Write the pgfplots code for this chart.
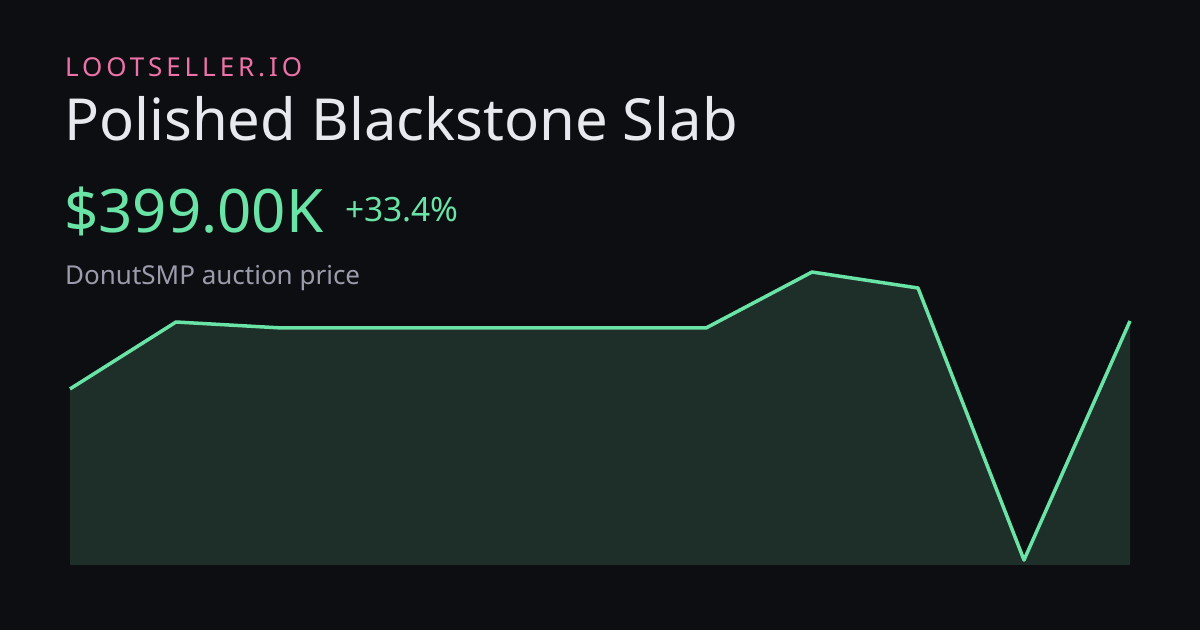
\documentclass[border=0pt]{standalone}
\usepackage{pgfplots}
\pgfplotsset{compat=1.18}
\usepackage{fontspec}
\setmainfont{Noto Sans}
\definecolor{bg}{HTML}{0D0E12}
\definecolor{fillc}{HTML}{1E2F2A}
\definecolor{linec}{HTML}{6AE3A6}
\definecolor{pinkc}{HTML}{EE72A8}
\definecolor{titlec}{HTML}{E8E9EE}
\definecolor{grayc}{HTML}{9A9CAB}
\pgfplotstableread{
x y
0 299.1
1 397.5
2 388.7
3 388.7
4 388.7
5 388.7
6 388.7
7 471.0
8 447.5
9 47.5
10 399.0
}\pricedata
\begin{document}
\begin{tikzpicture}[x=1bp,y=1bp]
\fill[bg] (0,0) rectangle (1200,630);
\useasboundingbox (0,0) rectangle (1200,630);
\node[anchor=base west,inner sep=0pt,text=pinkc] at (65,553)
  {\fontsize{26bp}{30bp}\selectfont\addfontfeatures{LetterSpace=15}LOOTSELLER.IO};
\node[anchor=base west,inner sep=0pt,text=titlec] at (64,489)
  {\fontsize{58bp}{70bp}\selectfont Polished Blackstone Slab};
\node[anchor=base west,inner sep=0pt,text=linec] at (64,397)
  {\fontsize{60bp}{70bp}\selectfont \$399.00K};
\node[anchor=base west,inner sep=0pt,text=linec] at (345,408)
  {\fontsize{33.5bp}{38bp}\selectfont +33.4\%};
\node[anchor=base west,inner sep=0pt,text=grayc] at (65,345)
  {\fontsize{26bp}{30bp}\selectfont DonutSMP auction price};
\begin{axis}[
  at={(70bp,65bp)}, anchor=south west,
  width=1060bp, height=315bp, scale only axis,
  xmin=0, xmax=10, ymin=40.2, ymax=503.4,
  hide axis, clip=false,
]
\addplot[fill=fillc, draw=none] table[x=x,y=y] {\pricedata} \closedcycle;
\addplot[linec, line width=3.5bp, line join=round] table[x=x,y=y] {\pricedata};
\end{axis}
\end{tikzpicture}
\end{document}
